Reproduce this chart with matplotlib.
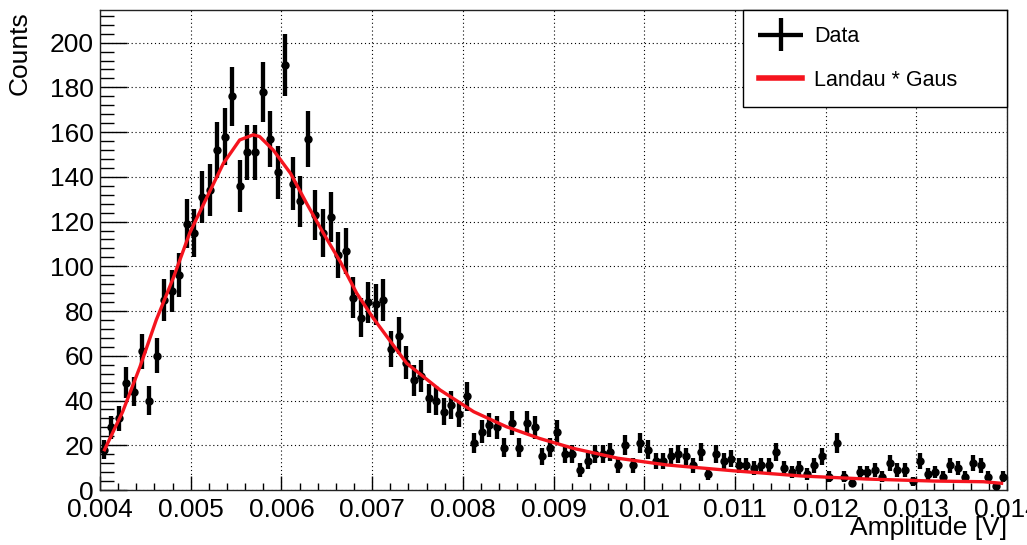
import numpy as np
import matplotlib
matplotlib.use('Agg')
import matplotlib.pyplot as plt
from matplotlib.ticker import MultipleLocator, FuncFormatter
from matplotlib.legend_handler import HandlerErrorbar

plt.rcParams['font.family'] = ['Liberation Sans', 'DejaVu Sans']

# histogram: 120 bins from 0.004 to 0.014 V
x_min, x_max, n_bins = 0.004, 0.014, 120
counts = np.array([
    18, 28, 32, 48, 44, 62, 40, 60, 85, 89, 96, 119, 115, 131, 134, 152, 158, 176,
    136, 151, 151, 178, 157, 142, 190, 137, 129, 157, 123, 115, 122, 105, 107, 86,
    77, 84,
    83, 85, 63, 69, 57, 49, 51, 41, 40, 35, 38, 34, 42, 21, 26, 29, 28, 19, 30, 19,
    30, 28, 15, 19, 26, 16, 16, 9, 13, 16, 16, 17, 11,
    20, 11, 21, 18, 13, 13, 15, 16, 15, 11, 17, 7, 16, 13, 14, 11, 11, 10, 11, 11,
    17, 10, 8, 10, 7, 11,
    15, 6, 21, 6, 3, 8, 8, 9, 6, 12, 9, 9, 4, 13, 7, 8, 6, 11, 10, 6, 12, 11, 6, 2, 6,
])

# fitted Landau * Gaus curve
fit_x = [0.00405, 0.00425, 0.00444, 0.00462, 0.00481, 0.00499, 0.00518, 0.00536,
         0.00554, 0.00569, 0.00576, 0.00591, 0.00610, 0.00628, 0.00646, 0.00665,
         0.00683, 0.00701, 0.00738, 0.00775, 0.00812, 0.00848, 0.00885, 0.00922,
         0.00971, 0.01025, 0.01098, 0.01172, 0.01245, 0.01319, 0.01374, 0.01394]
fit_y = [18, 35, 55, 76, 95, 115, 131, 146, 156.5, 158.8, 158, 152, 141.6, 128,
         115, 102, 88, 77, 56.7, 44.7, 35, 28.3, 23, 18.6, 14.2, 11.2, 8.6, 6.3,
         4.9, 4.0, 3.7, 3.0]

edges = np.linspace(x_min, x_max, n_bins + 1)
centers = 0.5 * (edges[:-1] + edges[1:])
errors = np.sqrt(counts)

fig = plt.figure(figsize=(10.27, 5.45), dpi=100)
ax = fig.add_axes([100 / 1027, 1 - 490 / 545, 907 / 1027, 480 / 545])

ax.errorbar(centers, counts, yerr=errors, fmt='o', color='black', ms=5,
            elinewidth=3.1, capsize=0, zorder=3)
ax.plot(fit_x, fit_y, color='#f5141e', lw=2.4, zorder=4)

ax.set_xlim(x_min, x_max)
ax.set_ylim(0, 214.6)

ax.xaxis.set_major_locator(MultipleLocator(0.001))
ax.xaxis.set_minor_locator(MultipleLocator(0.0002))
ax.yaxis.set_major_locator(MultipleLocator(20))
ax.yaxis.set_minor_locator(MultipleLocator(4))
ax.xaxis.set_major_formatter(FuncFormatter(lambda v, p: f'{round(v, 5):g}'))

ax.tick_params(axis='both', which='both', direction='in', labelsize=19,
               top=False, right=False, width=1)
ax.tick_params(axis='x', which='major', length=10, pad=5.5)
ax.tick_params(axis='x', which='minor', length=5)
ax.tick_params(axis='y', which='major', length=19.5, pad=4.3)
ax.tick_params(axis='y', which='minor', length=10)

ax.grid(True, which='major', color='black', linestyle=(0, (1, 2.5)), lw=0.8)
for s in ax.spines.values():
    s.set_linewidth(1)
    s.set_color('#222222')

fig.text(20 / 1027, 1 - 11 / 545, 'Counts', rotation=90, ha='center', va='top',
         fontsize=19)
fig.text(1007 / 1027, 1 - 516 / 545, 'Amplitude [V]', ha='right', va='top',
         fontsize=19)

# legend handles (cross for data, red line for fit)
h_data = ax.errorbar([], [], xerr=[], yerr=[], fmt='none', ecolor='black',
                     elinewidth=3.1, capsize=0)
h_fit, = ax.plot([], [], color='#f5141e', lw=4)
leg = ax.legend([h_data, h_fit], ['Data', 'Landau * Gaus'],
                handler_map={type(h_data): HandlerErrorbar(xerr_size=1.05, yerr_size=0.75)},
                bbox_to_anchor=(0.709, 0.0, 0.291, 1.0), loc='upper left',
                mode='expand', borderaxespad=0, fontsize=15.5, fancybox=False,
                framealpha=1, edgecolor='black', handlelength=2.0,
                handletextpad=0.55, labelspacing=1.05, borderpad=0.75)
leg.get_frame().set_linewidth(1)

fig.savefig('out.png', dpi=100)
